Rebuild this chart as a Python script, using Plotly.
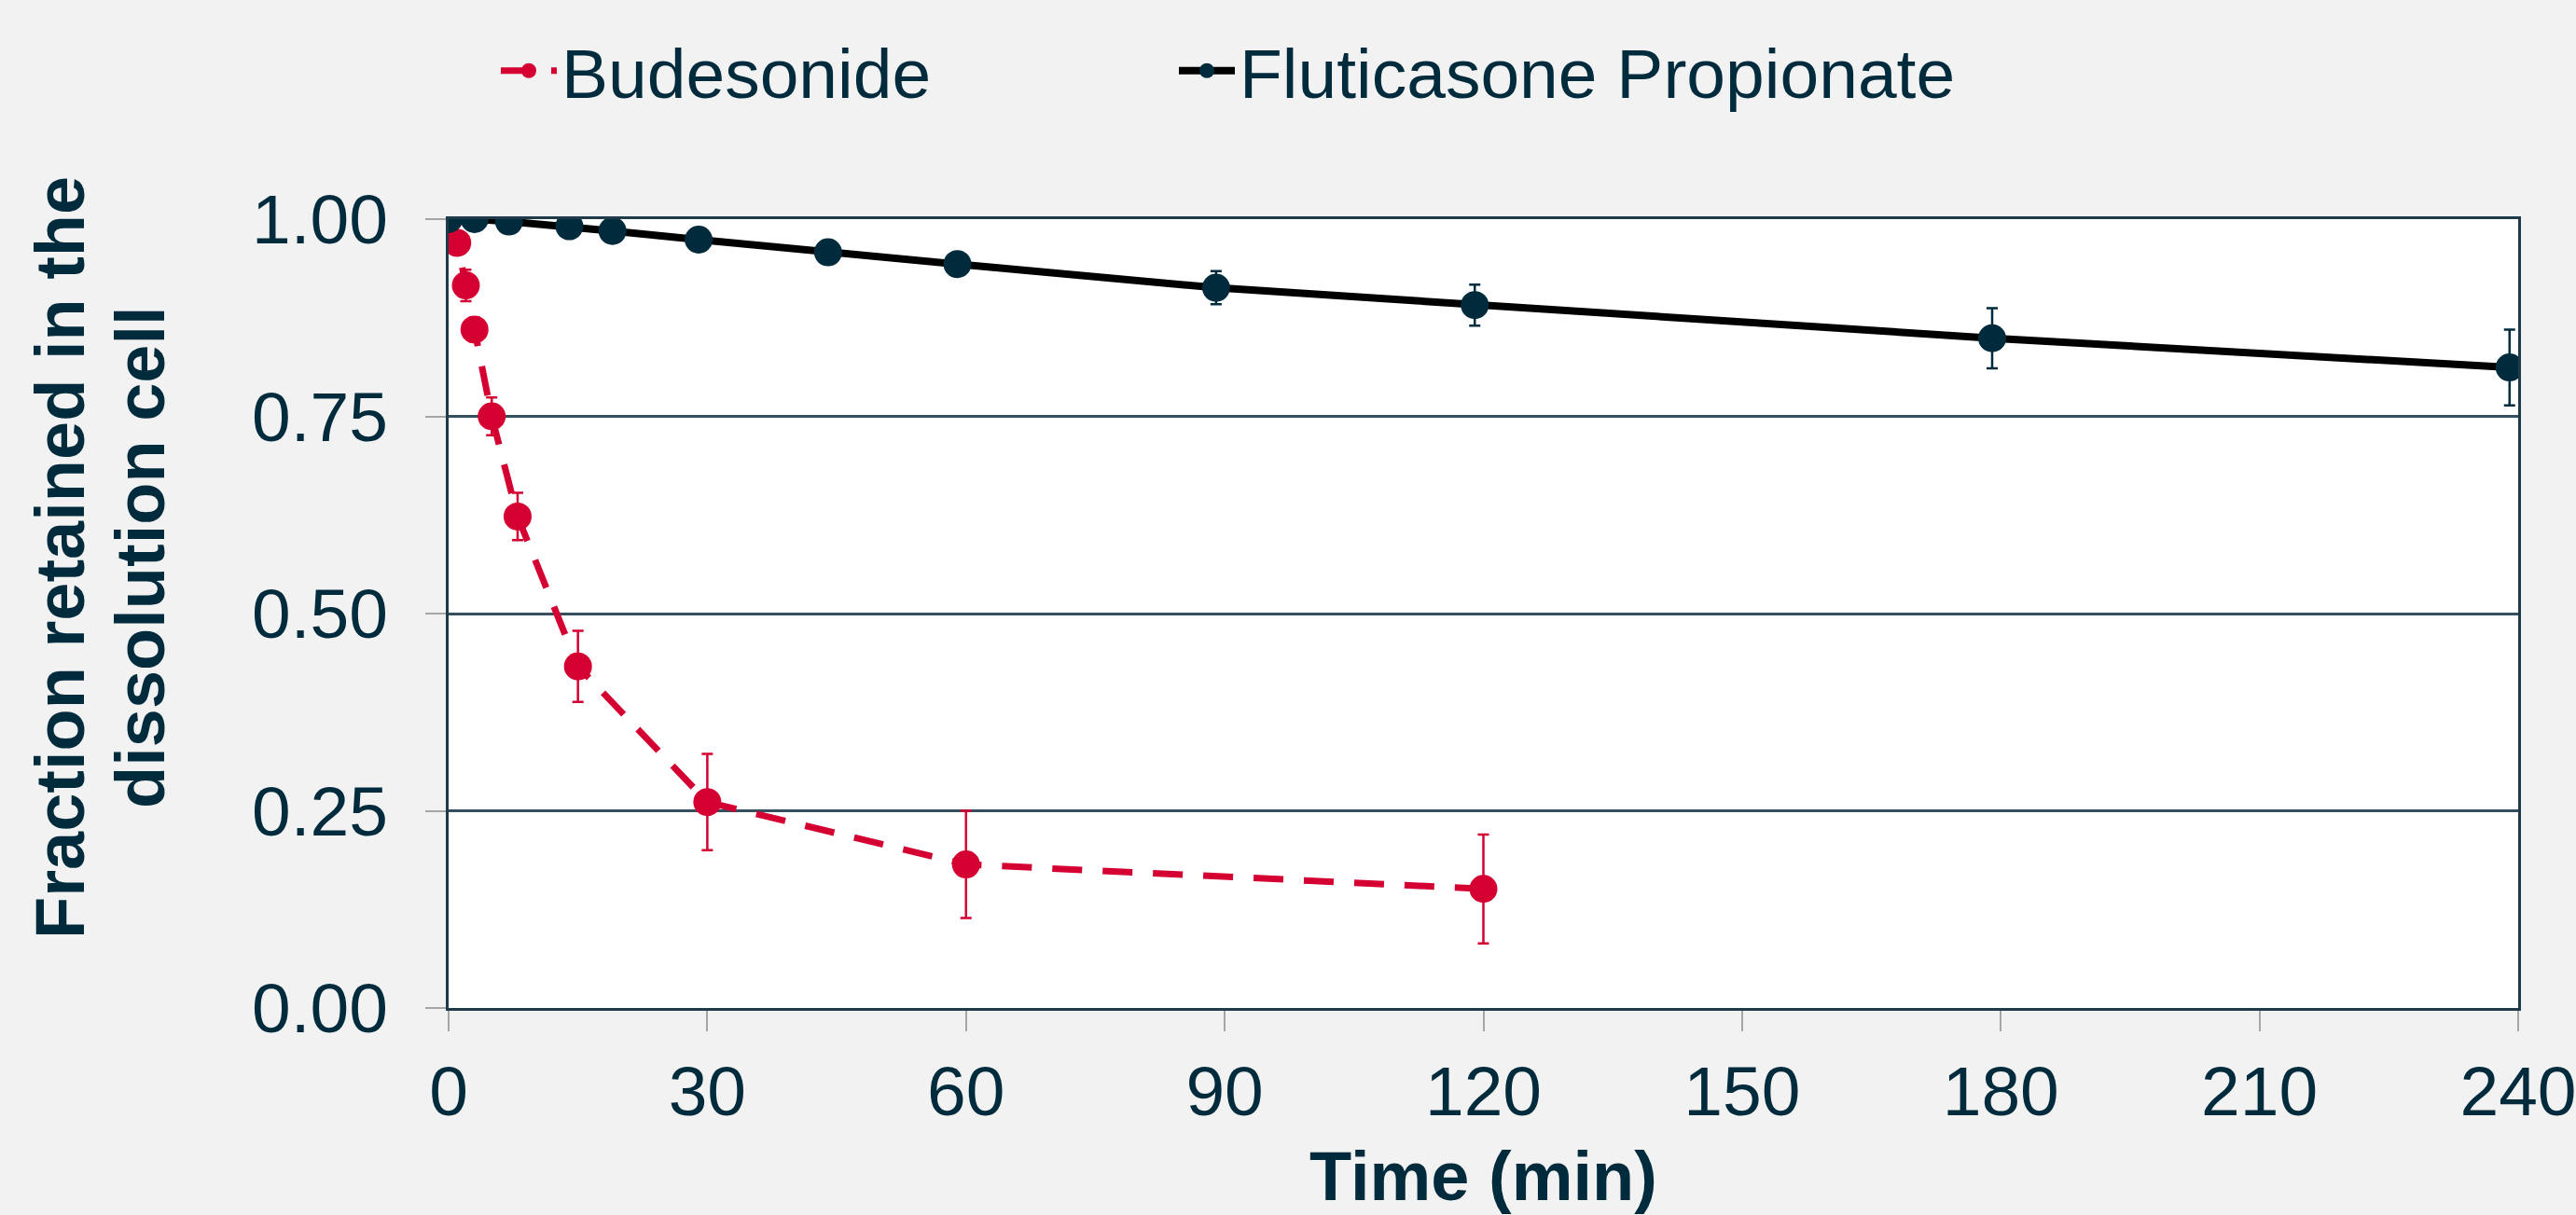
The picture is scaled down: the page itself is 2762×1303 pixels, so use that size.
import plotly.graph_objects as go

# ---- data ----
bud_time = [0, 1, 2, 3, 5, 8, 15, 30, 60, 120]
bud_frac = [1.0, 0.97, 0.916, 0.86, 0.75, 0.623, 0.433, 0.261, 0.182, 0.151]
bud_err = [0.0, 0.01, 0.02, 0.015, 0.024, 0.03, 0.045, 0.061, 0.068, 0.069]

flu_time = [0, 3, 7, 14, 19, 29, 44, 59, 89, 119, 179, 239]
flu_frac = [1.0, 1.0, 0.997, 0.991, 0.985, 0.974, 0.958, 0.943, 0.913, 0.891, 0.849, 0.812]
flu_err = [0.0, 0.003, 0.004, 0.005, 0.006, 0.007, 0.007, 0.008, 0.021, 0.026, 0.038, 0.048]

x_ticks = [0, 30, 60, 90, 120, 150, 180, 210, 240]
y_ticks = [0.0, 0.25, 0.5, 0.75, 1.0]
y_tick_labels = ["0.00", "0.25", "0.50", "0.75", "1.00"]

RED = "#D50032"
NAVY = "#002B3C"
FONT = "Liberation Sans, Arial, sans-serif"
FS = 75

W, H = 2762, 1303
L, R, T, B = 481, 62, 235, 222
PW = W - L - R
PH = H - T - B

fig = go.Figure()
fig.add_trace(go.Scatter(
    x=bud_time, y=bud_frac, name="Budesonide", mode="lines+markers",
    line=dict(color=RED, width=7, dash="32px,22px"),
    marker=dict(color=RED, size=30, line=dict(width=0)),
    error_y=dict(type="data", array=bud_err, visible=True, color=RED, thickness=2.5, width=6),
    legend="legend",
))
fig.add_trace(go.Scatter(
    x=flu_time, y=flu_frac, name="Fluticasone Propionate", mode="lines+markers",
    line=dict(color="#000000", width=8),
    marker=dict(color=NAVY, size=30, line=dict(width=0)),
    error_y=dict(type="data", array=flu_err, visible=True, color=NAVY, thickness=2.5, width=6),
    legend="legend2",
))

axis_line = "#1F3A48"
fig.update_xaxes(
    range=[0, 240], tickvals=x_ticks, ticktext=[str(v) for v in x_ticks],
    showgrid=False, zeroline=False,
    showline=True, linecolor=axis_line, linewidth=3, mirror=True,
    ticks="outside", ticklen=22, tickwidth=2, tickcolor="#A6A6A6",
    tickfont=dict(family=FONT, size=FS, color=NAVY),
    ticklabelstandoff=0, ticklabeloverflow="allow",
    title=dict(text="<b>Time (min)</b>", font=dict(family=FONT, size=74, color=NAVY), standoff=78),
)
fig.update_yaxes(
    range=[0, 1], tickvals=y_ticks, ticktext=y_tick_labels,
    showgrid=True, gridcolor="#34505E", gridwidth=2.5, zeroline=False,
    showline=True, linecolor=axis_line, linewidth=3, mirror=True,
    ticks="outside", ticklen=22, tickwidth=2, tickcolor="#A6A6A6",
    tickfont=dict(family=FONT, size=FS, color=NAVY),
    ticklabelstandoff=25, ticklabeloverflow="allow",
)

# y-axis title as two annotation lines (offset upward like the reference)
ytitle_lines = ["Fraction retained in the", "dissolution cell"]
ytitle_x_px = [64, 150]
for txt, xp in zip(ytitle_lines, ytitle_x_px):
    fig.add_annotation(
        text="<b>" + txt + "</b>", xref="paper", yref="paper",
        x=(xp - L) / PW, y=(H - B - 598) / PH,
        xanchor="center", yanchor="middle", textangle=-90, showarrow=False,
        font=dict(family=FONT, size=74, color=NAVY),
    )

leg_common = dict(
    orientation="h", xanchor="left", yanchor="middle",
    y=(H - B - 76) / PH,
    font=dict(family=FONT, size=FS, color=NAVY),
    bgcolor="rgba(0,0,0,0)", itemwidth=60,
)
fig.update_layout(
    width=W, height=H,
    margin=dict(l=L, r=R, t=T, b=B, autoexpand=False),
    paper_bgcolor="#F2F2F2", plot_bgcolor="#FFFFFF",
    font=dict(family=FONT, size=FS, color=NAVY),
    showlegend=True,
    legend=dict(x=(532 - L) / PW, **leg_common),
    legend2=dict(x=(1259 - L) / PW, **leg_common),
)

fig.write_html(
    "out.html",
    config={"displayModeBar": False},
    post_script="document.body.style.margin='0';document.body.style.overflow='hidden';",
)
